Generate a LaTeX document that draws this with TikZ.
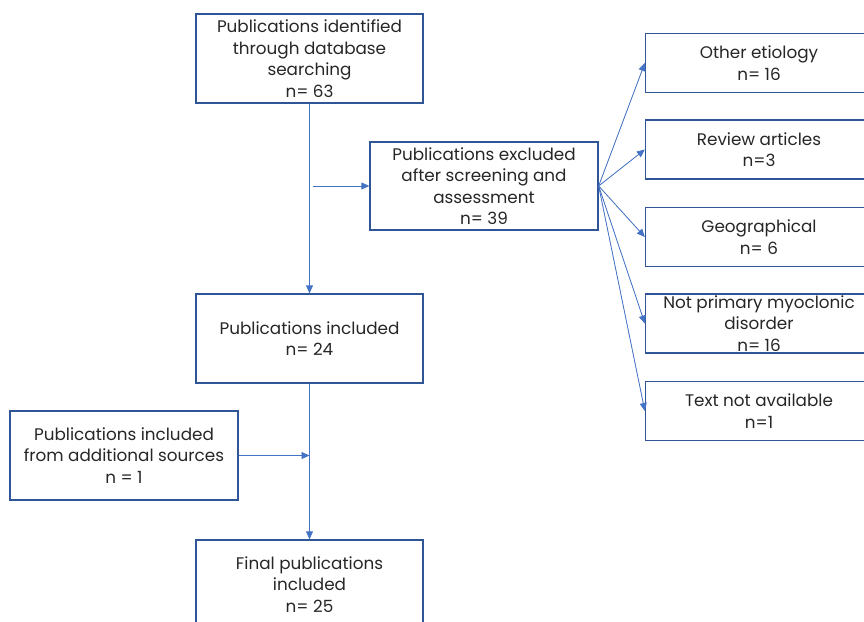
\documentclass[tikz,border=0pt]{standalone}
\usepackage{fontspec}
\setmainfont{Poppins}
\usetikzlibrary{arrows.meta}
\definecolor{boxblue}{HTML}{2F5597}
\definecolor{linkblue}{HTML}{4472C4}
\begin{document}
\begin{tikzpicture}[x=1pt,y=1pt,
  box/.style={draw=boxblue, line width=1.3pt, inner sep=0pt, minimum width=227pt, minimum height=89pt, align=center, font=\fontsize{16.8}{21.5}\selectfont, text=black!85},
  rbox/.style={box, minimum height=59pt},
  txt/.style={inner sep=0pt, align=center, font=\fontsize{16.8}{21.5}\selectfont, text=black!85},
  arr/.style={draw=linkblue, line width=0.8pt, -{Triangle[length=8pt,width=7pt]}, fill=linkblue}]
\useasboundingbox (0,0) rectangle (864,-621);
\clip (0,0) rectangle (864,-621);
\node[box] (top) at (309.5,-58.5) {Publications identified\\through database\\searching\\n= 63};
\node[box, minimum width=228pt, minimum height=88pt] (excl) at (484,-186) {Publications excluded\\after screening and\\assessment\\n= 39};
\node[box] (incl) at (309.5,-338.5) {Publications included\\n= 24};
\node[box, minimum width=228pt] (add) at (124,-455.5) {Publications included\\from additional sources\\n = 1};
\node[box] (fin) at (309.5,-584.5) {Final publications\\included\\n= 25};
\node[rbox] (oe) at (759,-63) {Other etiology\\n= 16};
\node[rbox] (ra) at (759,-149.5) {Review articles\\n=3};
\node[rbox] (geo) at (759,-237) {Geographical\\n= 6};
\node[rbox, label={[txt]center:{Not primary myoclonic\\disorder\\n= 16}}] (np) at (759,-323.5) {};
\node[rbox] (tna) at (759,-411) {Text not available\\n=1};
\coordinate (hs) at (313,-186);
\draw[arr] (top.south) -- (incl.north);
\draw[arr] (hs) -- (excl.west);
\draw[arr] (excl.east) -- (oe.west);
\draw[arr] (excl.east) -- (ra.west);
\draw[arr] (excl.east) -- (geo.west);
\draw[arr] (excl.east) -- (np.west);
\draw[arr] (excl.east) -- (tna.west);
\draw[arr] (incl.south) -- (fin.north);
\draw[arr] (add.east) -- (add.east -| incl.south);
\end{tikzpicture}
\end{document}
